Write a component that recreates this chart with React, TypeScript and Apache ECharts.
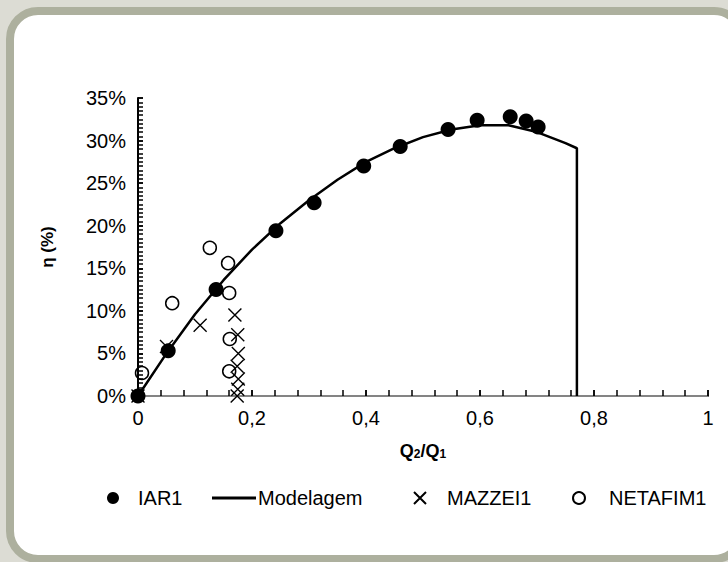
import React, { useEffect, useRef } from "react";
import * as echarts from "echarts";

const xTickLabels = ["0", "0,2", "0,4", "0,6", "0,8", "1"];

const iarX = [0, 0.053, 0.137, 0.242, 0.309, 0.396, 0.46, 0.544, 0.595, 0.653, 0.681, 0.702];
const iarY = [0, 5.3, 12.5, 19.4, 22.7, 27.0, 29.3, 31.3, 32.4, 32.8, 32.3, 31.6];

const modelX = [0, 0.05, 0.1, 0.15, 0.2, 0.25, 0.3, 0.35, 0.4, 0.45, 0.5, 0.55, 0.6, 0.65, 0.7, 0.75, 0.77, 0.77];
const modelY = [0, 5.0, 9.6, 13.6, 17.2, 20.3, 23.0, 25.4, 27.5, 29.1, 30.4, 31.3, 31.8, 31.8, 31.0, 29.7, 29.1, 0];

const mazX = [0, 0.05, 0.109, 0.170, 0.175, 0.176, 0.174, 0.176, 0.175, 0.174];
const mazY = [0, 5.8, 8.3, 9.5, 7.2, 5.0, 3.5, 2.0, 0.8, 0];

const netX = [0.007, 0.06, 0.126, 0.158, 0.16, 0.161, 0.16];
const netY = [2.7, 10.9, 17.4, 15.6, 12.1, 6.7, 2.9];

const pair = (xs: number[], ys: number[]) => xs.map((x, i) => [x, ys[i]]);

const CROSS = "path://M0,0L10,10M10,0L0,10";
const FONT = "Liberation Sans, Arial, sans-serif";

export default function App() {
  const ref = useRef<HTMLDivElement>(null);
  useEffect(() => {
    if (!ref.current) return;
    const chart = echarts.init(ref.current, undefined, { renderer: "svg" });
    const legendText = { fontSize: 20, color: "#000", fontFamily: FONT };
    const tickLine = { color: "#000", width: 1.5 };
    const legendTop = 483;
    chart.setOption({
      animation: false,
      grid: { left: 138, right: 20, top: 98, bottom: 166 },
      xAxis: [
        {
          type: "value",
          position: "bottom",
          min: 0,
          max: 1,
          interval: 0.2,
          axisLine: { lineStyle: { color: "#000", width: 2 } },
          axisTick: { show: true, inside: true, length: 6, lineStyle: tickLine },
          splitLine: { show: false },
          axisLabel: {
            color: "#000",
            fontSize: 20,
            fontFamily: FONT,
            margin: 12,
            formatter: (v: number) => xTickLabels[Math.round(v / 0.2)] ?? "",
          },
          name: "{b|Q}{s|2}{b|/Q}{s|1}",
          nameLocation: "middle",
          nameGap: 44,
          nameTextStyle: {
            rich: {
              b: { fontSize: 18, fontWeight: "bold", fontFamily: FONT, color: "#000", lineHeight: 20, verticalAlign: "bottom" },
              s: { fontSize: 12, fontWeight: "bold", fontFamily: FONT, color: "#000", lineHeight: 12, verticalAlign: "bottom" },
            },
          },
        },
        {
          type: "value",
          position: "top",
          min: 0,
          max: 1,
          axisLine: { show: true, lineStyle: { color: "#b0b0b0", width: 1.5 } },
          axisTick: { show: false },
          axisLabel: { show: false },
          splitLine: { show: false },
        },
        {
          type: "value",
          position: "bottom",
          min: 0,
          max: 1,
          interval: 0.04,
          axisLine: { show: false },
          axisTick: { show: true, inside: true, length: 6, lineStyle: tickLine },
          axisLabel: { show: false },
          splitLine: { show: false },
        },
      ],
      yAxis: [
        {
          type: "value",
          min: 0,
          max: 35,
          interval: 5,
          axisLine: { show: true, lineStyle: { color: "#000", width: 2 } },
          axisTick: { show: true, inside: true, length: 5, lineStyle: tickLine },
          splitLine: { show: false },
          axisLabel: { color: "#000", fontSize: 20, fontFamily: FONT, margin: 12, formatter: "{value}%" },
          name: "η (%)",
          nameLocation: "middle",
          nameGap: 82,
          nameTextStyle: { fontSize: 17, fontWeight: "bold", fontFamily: FONT, color: "#000" },
        },
        {
          type: "value",
          position: "left",
          min: 0,
          max: 35,
          interval: 0.5,
          axisLine: { show: false },
          axisTick: { show: true, inside: true, length: 5, lineStyle: tickLine },
          axisLabel: { show: false },
          splitLine: { show: false },
        },
      ],
      legend: [
        {
          data: ["IAR1"],
          left: 102,
          top: legendTop,
          icon: "circle",
          itemWidth: 12,
          itemHeight: 14,
          textStyle: { ...legendText, padding: [0, 0, 0, 14] },
        },
        {
          data: [{ name: "Modelagem", icon: "rect" }],
          left: 207,
          top: legendTop,
          itemWidth: 44,
          itemHeight: 3,
          textStyle: { ...legendText, padding: [0, 0, 0, -3] },
        },
        {
          data: ["MAZZEI1"],
          left: 408,
          top: legendTop,
          itemWidth: 12,
          itemHeight: 12,
          textStyle: { ...legendText, padding: [0, 0, 0, 16] },
        },
        {
          data: ["NETAFIM1"],
          left: 567,
          top: legendTop,
          itemWidth: 12,
          itemHeight: 12,
          textStyle: { ...legendText, padding: [0, 0, 0, 19] },
        },
      ],
      series: [
        {
          name: "Modelagem",
          type: "line",
          data: pair(modelX, modelY),
          symbol: "none",
          lineStyle: { color: "#000", width: 2.5 },
          itemStyle: { color: "#000" },
          z: 1,
        },
        {
          name: "MAZZEI1",
          type: "scatter",
          data: pair(mazX, mazY),
          symbol: CROSS,
          symbolSize: 13,
          itemStyle: { color: "#000", borderColor: "#000", borderWidth: 1.4, opacity: 1 },
          z: 2,
        },
        {
          name: "NETAFIM1",
          type: "scatter",
          data: pair(netX, netY),
          symbol: "circle",
          symbolSize: 13,
          itemStyle: { color: "rgba(255,255,255,0)", borderColor: "#000", borderWidth: 1.5, opacity: 1 },
          z: 3,
        },
        {
          name: "IAR1",
          type: "scatter",
          data: pair(iarX, iarY),
          symbol: "circle",
          symbolSize: 15,
          itemStyle: { color: "#000", opacity: 1 },
          z: 4,
        },
      ],
    });
    return () => chart.dispose();
  }, []);

  return (
    <div style={{ position: "fixed", left: 0, top: 0, width: 728, height: 562, background: "#dcdcd4", overflow: "hidden" }}>
      <div
        style={{
          position: "absolute",
          left: 6,
          top: 7,
          width: 740,
          height: 556,
          boxSizing: "border-box",
          border: "8px solid #adb09e",
          borderRadius: 32,
          background: "#fff",
        }}
      />
      <div ref={ref} style={{ position: "absolute", left: 0, top: 0, width: 728, height: 562 }} />
    </div>
  );
}
